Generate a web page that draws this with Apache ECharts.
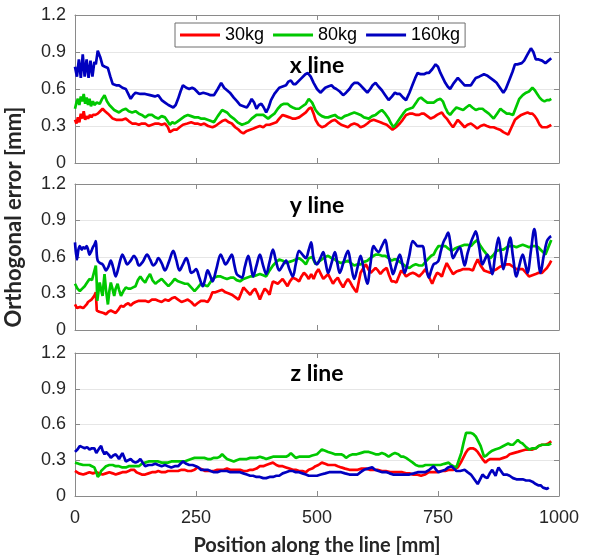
<!DOCTYPE html>
<html>
<head>
<meta charset="utf-8">
<script src="https://cdn.jsdelivr.net/npm/echarts@6/dist/echarts.min.js"></script>
<style>
  html, body { margin: 0; padding: 0; background: #fff; }
  #chart { width: 595px; height: 555px; }
</style>
</head>
<body>
<div id="chart"></div>
<script>
// Orthogonal error [mm] vs position along the line [mm], pairs of [position, error]

// ---- x line ----
const xLine30 = [[0,0.35],[3,0.32],[6,0.37],[9,0.33],[12,0.40],[15,0.36],[18,0.42],[21,0.35],[24,0.38],[27,0.36],[31,0.39],[34,0.37],[37,0.39],[42,0.39],[47,0.40],[52,0.42],[57,0.44],[62,0.42],[68,0.40],[73,0.38],[78,0.36],[85,0.35],[91,0.35],[98,0.35],[105,0.36],[111,0.34],[118,0.32],[125,0.32],[132,0.31],[138,0.32],[145,0.32],[152,0.30],[159,0.31],[166,0.32],[172,0.32],[179,0.31],[186,0.32],[192,0.29],[196,0.25],[199,0.25],[204,0.27],[210,0.27],[216,0.29],[223,0.31],[232,0.32],[240,0.33],[247,0.32],[253,0.32],[260,0.31],[267,0.32],[275,0.30],[284,0.29],[290,0.30],[297,0.32],[304,0.34],[311,0.35],[318,0.33],[324,0.32],[331,0.29],[338,0.27],[343,0.25],[348,0.24],[355,0.26],[362,0.27],[369,0.28],[375,0.29],[382,0.30],[389,0.29],[395,0.31],[402,0.31],[409,0.32],[416,0.33],[422,0.36],[429,0.39],[436,0.38],[443,0.37],[449,0.36],[456,0.36],[463,0.37],[470,0.39],[477,0.41],[483,0.44],[488,0.45],[493,0.40],[497,0.35],[503,0.31],[510,0.29],[517,0.30],[523,0.32],[530,0.34],[537,0.35],[543,0.33],[550,0.31],[557,0.30],[564,0.29],[570,0.31],[577,0.32],[584,0.31],[590,0.29],[597,0.30],[604,0.32],[610,0.34],[617,0.35],[624,0.34],[631,0.33],[637,0.32],[644,0.31],[650,0.29],[656,0.27],[663,0.29],[671,0.32],[677,0.35],[684,0.39],[691,0.40],[698,0.40],[705,0.39],[711,0.39],[716,0.40],[721,0.40],[728,0.38],[735,0.36],[741,0.37],[748,0.39],[753,0.40],[758,0.41],[763,0.38],[768,0.36],[775,0.32],[781,0.29],[786,0.32],[791,0.35],[798,0.32],[805,0.29],[811,0.31],[818,0.32],[825,0.30],[831,0.28],[838,0.30],[845,0.31],[851,0.30],[858,0.29],[865,0.29],[871,0.28],[878,0.27],[885,0.25],[890,0.24],[895,0.23],[902,0.29],[909,0.35],[915,0.37],[922,0.39],[928,0.40],[935,0.41],[940,0.40],[945,0.40],[950,0.38],[955,0.35],[960,0.31],[965,0.29],[970,0.29],[975,0.29],[980,0.30],[984,0.31]];
const xLine80 = [[0,0.44],[3,0.49],[6,0.52],[9,0.47],[12,0.54],[15,0.50],[18,0.56],[21,0.48],[24,0.53],[27,0.47],[30,0.52],[33,0.46],[37,0.50],[40,0.47],[45,0.49],[51,0.48],[56,0.52],[61,0.55],[66,0.50],[71,0.47],[76,0.45],[81,0.43],[86,0.42],[91,0.41],[98,0.43],[105,0.44],[111,0.42],[118,0.41],[125,0.42],[132,0.40],[138,0.39],[145,0.37],[152,0.39],[159,0.39],[166,0.37],[172,0.36],[179,0.38],[186,0.37],[191,0.34],[196,0.31],[201,0.33],[206,0.32],[213,0.34],[220,0.36],[227,0.38],[233,0.39],[240,0.38],[247,0.37],[254,0.37],[260,0.36],[267,0.36],[274,0.35],[281,0.34],[287,0.33],[295,0.38],[304,0.43],[309,0.42],[314,0.41],[321,0.38],[328,0.36],[336,0.33],[345,0.31],[352,0.32],[358,0.33],[365,0.36],[375,0.39],[382,0.39],[389,0.39],[399,0.36],[405,0.38],[412,0.40],[419,0.44],[426,0.47],[432,0.48],[439,0.48],[445,0.46],[450,0.45],[456,0.44],[463,0.44],[470,0.46],[477,0.48],[483,0.52],[490,0.49],[497,0.43],[503,0.40],[510,0.38],[517,0.37],[523,0.37],[530,0.38],[537,0.39],[543,0.37],[550,0.36],[557,0.38],[564,0.39],[570,0.40],[577,0.41],[584,0.40],[590,0.39],[597,0.37],[607,0.36],[614,0.38],[621,0.39],[627,0.41],[634,0.43],[641,0.40],[648,0.36],[653,0.32],[658,0.29],[664,0.32],[671,0.36],[678,0.40],[684,0.43],[691,0.44],[698,0.45],[705,0.49],[710,0.52],[715,0.53],[721,0.51],[728,0.49],[735,0.49],[741,0.49],[748,0.51],[755,0.52],[760,0.50],[765,0.45],[770,0.41],[775,0.39],[781,0.42],[788,0.45],[795,0.44],[802,0.43],[808,0.45],[815,0.47],[821,0.45],[828,0.43],[835,0.44],[842,0.44],[848,0.42],[855,0.40],[860,0.38],[865,0.36],[872,0.40],[879,0.44],[885,0.42],[892,0.40],[898,0.40],[905,0.39],[912,0.46],[918,0.52],[925,0.55],[932,0.57],[938,0.58],[945,0.61],[950,0.59],[955,0.56],[960,0.53],[965,0.51],[970,0.50],[975,0.51],[980,0.51],[984,0.52]];
const xLine160 = [[0,0.78],[4,0.70],[8,0.84],[12,0.69],[16,0.88],[20,0.70],[24,0.84],[28,0.69],[32,0.83],[36,0.70],[40,0.82],[43,0.80],[47,0.91],[52,0.86],[57,0.79],[62,0.78],[68,0.77],[73,0.70],[78,0.64],[85,0.63],[91,0.63],[98,0.61],[105,0.60],[110,0.56],[115,0.52],[120,0.55],[125,0.57],[135,0.56],[145,0.56],[155,0.55],[165,0.54],[172,0.55],[179,0.51],[186,0.49],[193,0.47],[203,0.45],[208,0.47],[213,0.52],[218,0.58],[223,0.63],[230,0.61],[236,0.60],[242,0.61],[247,0.60],[257,0.56],[265,0.57],[274,0.56],[280,0.55],[287,0.55],[295,0.60],[302,0.65],[308,0.61],[314,0.59],[320,0.57],[328,0.53],[335,0.50],[341,0.47],[348,0.46],[355,0.45],[360,0.48],[365,0.52],[370,0.49],[375,0.44],[380,0.47],[385,0.48],[390,0.45],[395,0.41],[400,0.45],[405,0.51],[412,0.56],[422,0.61],[429,0.62],[436,0.63],[441,0.66],[446,0.67],[451,0.64],[456,0.64],[466,0.68],[476,0.72],[481,0.73],[487,0.70],[493,0.65],[500,0.60],[507,0.57],[512,0.59],[517,0.61],[523,0.62],[530,0.63],[535,0.61],[540,0.60],[547,0.58],[554,0.55],[560,0.57],[567,0.60],[572,0.63],[577,0.65],[584,0.65],[590,0.63],[597,0.60],[604,0.57],[610,0.60],[615,0.63],[621,0.65],[627,0.62],[634,0.59],[641,0.55],[648,0.51],[655,0.54],[661,0.57],[666,0.56],[671,0.56],[678,0.53],[684,0.51],[691,0.57],[698,0.64],[703,0.69],[708,0.73],[714,0.72],[721,0.72],[726,0.73],[731,0.73],[738,0.76],[745,0.80],[750,0.78],[755,0.73],[760,0.69],[765,0.65],[770,0.62],[775,0.60],[783,0.65],[791,0.69],[798,0.66],[805,0.63],[811,0.63],[818,0.63],[823,0.66],[828,0.69],[835,0.70],[845,0.72],[851,0.71],[858,0.69],[865,0.67],[871,0.65],[878,0.61],[885,0.57],[890,0.60],[898,0.68],[904,0.74],[909,0.80],[914,0.80],[918,0.79],[923,0.81],[928,0.83],[935,0.88],[942,0.93],[947,0.90],[952,0.84],[958,0.84],[965,0.83],[972,0.81],[978,0.83],[984,0.85]];

// ---- y line ----
const yLine30 = [[0,0.21],[4,0.18],[7,0.17],[10,0.19],[14,0.20],[17,0.18],[20,0.19],[24,0.21],[27,0.23],[30,0.23],[34,0.25],[38,0.27],[41,0.29],[43,0.31],[45,0.16],[50,0.15],[54,0.16],[59,0.14],[64,0.13],[69,0.15],[74,0.16],[79,0.15],[84,0.14],[90,0.17],[95,0.20],[100,0.19],[105,0.21],[110,0.22],[115,0.20],[120,0.22],[125,0.23],[132,0.24],[139,0.24],[145,0.24],[152,0.23],[159,0.25],[166,0.25],[172,0.24],[179,0.23],[186,0.25],[193,0.24],[200,0.26],[206,0.27],[213,0.25],[220,0.23],[227,0.24],[233,0.25],[240,0.23],[247,0.20],[253,0.22],[260,0.24],[267,0.24],[274,0.23],[279,0.26],[284,0.31],[290,0.31],[297,0.32],[304,0.33],[311,0.31],[318,0.30],[324,0.29],[331,0.27],[338,0.25],[343,0.30],[348,0.35],[355,0.32],[362,0.29],[367,0.32],[372,0.34],[377,0.30],[382,0.25],[387,0.30],[392,0.34],[397,0.32],[402,0.29],[406,0.36],[409,0.40],[414,0.39],[419,0.38],[424,0.40],[429,0.42],[434,0.39],[439,0.36],[444,0.40],[450,0.43],[456,0.42],[463,0.40],[468,0.44],[473,0.47],[478,0.45],[483,0.42],[488,0.46],[493,0.42],[498,0.47],[503,0.50],[508,0.46],[513,0.42],[518,0.44],[523,0.46],[528,0.42],[533,0.38],[538,0.41],[543,0.43],[548,0.39],[554,0.35],[559,0.39],[564,0.42],[569,0.39],[573,0.36],[578,0.33],[582,0.31],[586,0.39],[590,0.47],[596,0.51],[601,0.54],[606,0.50],[611,0.47],[616,0.49],[621,0.51],[626,0.49],[631,0.46],[637,0.49],[644,0.51],[649,0.45],[654,0.40],[659,0.40],[664,0.39],[669,0.44],[674,0.49],[679,0.47],[684,0.44],[691,0.46],[698,0.47],[704,0.46],[711,0.44],[718,0.47],[724,0.50],[731,0.44],[738,0.38],[743,0.43],[748,0.47],[753,0.46],[758,0.44],[763,0.50],[768,0.55],[775,0.50],[781,0.46],[788,0.48],[795,0.49],[801,0.50],[808,0.50],[815,0.50],[822,0.49],[827,0.54],[832,0.58],[838,0.53],[845,0.49],[851,0.48],[858,0.47],[865,0.49],[871,0.50],[878,0.52],[885,0.53],[892,0.54],[898,0.54],[905,0.52],[912,0.50],[918,0.50],[925,0.50],[932,0.47],[938,0.44],[945,0.45],[952,0.46],[958,0.47],[965,0.47],[970,0.49],[975,0.51],[980,0.54],[984,0.57]];
const yLine80 = [[0,0.38],[5,0.34],[10,0.32],[15,0.34],[20,0.36],[25,0.39],[30,0.42],[35,0.41],[39,0.42],[43,0.53],[45,0.38],[46,0.24],[49,0.33],[51,0.39],[54,0.33],[57,0.28],[59,0.38],[61,0.46],[64,0.33],[68,0.21],[71,0.32],[74,0.39],[78,0.33],[81,0.28],[84,0.34],[88,0.38],[91,0.33],[95,0.28],[100,0.32],[105,0.35],[110,0.34],[115,0.34],[120,0.35],[125,0.36],[130,0.41],[135,0.44],[140,0.41],[145,0.39],[150,0.43],[155,0.46],[160,0.41],[166,0.38],[172,0.40],[179,0.42],[186,0.39],[193,0.36],[200,0.39],[206,0.42],[213,0.40],[220,0.39],[227,0.38],[233,0.38],[240,0.35],[247,0.32],[254,0.35],[260,0.38],[267,0.37],[274,0.36],[281,0.40],[287,0.43],[294,0.44],[301,0.44],[307,0.43],[314,0.42],[321,0.43],[328,0.43],[334,0.41],[341,0.40],[348,0.42],[355,0.43],[362,0.44],[368,0.44],[375,0.45],[382,0.46],[389,0.45],[395,0.44],[402,0.49],[409,0.53],[416,0.56],[422,0.58],[429,0.57],[436,0.55],[443,0.56],[450,0.57],[456,0.58],[463,0.59],[470,0.57],[477,0.54],[483,0.59],[490,0.60],[497,0.54],[503,0.56],[510,0.58],[517,0.60],[523,0.61],[530,0.59],[537,0.58],[543,0.56],[550,0.55],[557,0.56],[564,0.57],[570,0.55],[577,0.53],[584,0.54],[590,0.54],[597,0.56],[604,0.57],[610,0.59],[617,0.61],[622,0.62],[627,0.62],[634,0.61],[641,0.61],[648,0.59],[654,0.57],[659,0.58],[664,0.58],[671,0.56],[678,0.54],[684,0.52],[691,0.51],[698,0.53],[704,0.54],[711,0.53],[718,0.53],[724,0.56],[731,0.59],[736,0.61],[741,0.62],[746,0.66],[751,0.69],[758,0.69],[765,0.69],[771,0.67],[778,0.65],[785,0.67],[791,0.68],[798,0.69],[805,0.70],[811,0.70],[818,0.69],[825,0.72],[831,0.74],[838,0.69],[845,0.65],[851,0.62],[858,0.59],[865,0.62],[871,0.65],[878,0.66],[885,0.66],[892,0.68],[898,0.69],[905,0.69],[912,0.68],[918,0.69],[925,0.70],[932,0.69],[938,0.68],[945,0.69],[952,0.69],[957,0.68],[962,0.66],[967,0.64],[972,0.62],[978,0.68],[984,0.74]];
const yLine160 = [[0,0.72],[4,0.58],[7,0.66],[10,0.69],[14,0.66],[17,0.68],[21,0.67],[24,0.69],[27,0.66],[30,0.62],[34,0.65],[37,0.68],[40,0.70],[43,0.73],[45,0.62],[47,0.57],[52,0.55],[57,0.54],[61,0.51],[64,0.49],[69,0.52],[74,0.57],[79,0.51],[84,0.44],[89,0.50],[94,0.58],[98,0.62],[103,0.58],[108,0.54],[115,0.57],[122,0.61],[127,0.58],[132,0.53],[140,0.56],[149,0.62],[155,0.58],[162,0.53],[167,0.55],[172,0.59],[179,0.55],[186,0.49],[194,0.56],[203,0.65],[209,0.58],[216,0.49],[223,0.54],[230,0.59],[235,0.54],[240,0.47],[245,0.48],[250,0.50],[257,0.43],[264,0.36],[269,0.42],[274,0.49],[279,0.45],[284,0.40],[292,0.50],[301,0.62],[306,0.58],[311,0.54],[318,0.58],[324,0.62],[329,0.54],[334,0.46],[340,0.44],[345,0.43],[351,0.52],[358,0.61],[363,0.53],[368,0.44],[375,0.53],[382,0.62],[388,0.54],[395,0.46],[402,0.56],[409,0.66],[415,0.57],[422,0.49],[429,0.53],[436,0.57],[443,0.50],[450,0.44],[456,0.54],[463,0.65],[470,0.62],[477,0.59],[483,0.66],[488,0.72],[493,0.59],[500,0.54],[507,0.59],[513,0.64],[518,0.55],[523,0.47],[530,0.55],[537,0.64],[542,0.55],[547,0.47],[555,0.56],[564,0.65],[570,0.54],[577,0.42],[584,0.52],[590,0.61],[597,0.49],[604,0.38],[610,0.53],[617,0.69],[622,0.66],[627,0.64],[634,0.69],[641,0.74],[646,0.64],[651,0.55],[654,0.50],[657,0.46],[664,0.54],[671,0.62],[676,0.55],[681,0.47],[690,0.60],[698,0.73],[703,0.71],[708,0.69],[713,0.69],[718,0.69],[724,0.56],[731,0.43],[736,0.49],[741,0.54],[746,0.55],[751,0.57],[756,0.65],[761,0.72],[766,0.76],[771,0.80],[776,0.70],[781,0.59],[788,0.64],[795,0.68],[800,0.61],[805,0.53],[811,0.63],[818,0.72],[823,0.77],[828,0.81],[835,0.68],[842,0.54],[847,0.58],[852,0.62],[857,0.54],[862,0.46],[868,0.61],[875,0.76],[880,0.63],[885,0.50],[892,0.63],[899,0.76],[905,0.60],[912,0.44],[918,0.53],[925,0.62],[930,0.55],[935,0.47],[942,0.65],[949,0.83],[955,0.65],[962,0.47],[968,0.60],[975,0.73],[980,0.76],[984,0.77]];

// ---- z line ----
const zLine30 = [[0,0.21],[8,0.19],[17,0.18],[24,0.19],[30,0.20],[37,0.19],[44,0.20],[50,0.19],[57,0.18],[64,0.19],[71,0.20],[78,0.19],[84,0.18],[91,0.19],[98,0.20],[105,0.20],[111,0.21],[116,0.22],[122,0.22],[127,0.20],[132,0.19],[138,0.18],[145,0.18],[152,0.19],[159,0.20],[166,0.20],[172,0.21],[179,0.20],[186,0.20],[192,0.21],[199,0.21],[206,0.21],[213,0.21],[220,0.22],[226,0.22],[233,0.21],[240,0.21],[247,0.22],[253,0.24],[258,0.23],[264,0.22],[269,0.21],[274,0.21],[281,0.21],[287,0.21],[294,0.22],[301,0.22],[307,0.22],[314,0.23],[321,0.22],[328,0.22],[334,0.22],[341,0.22],[348,0.21],[355,0.21],[362,0.22],[368,0.22],[375,0.23],[382,0.25],[389,0.25],[395,0.26],[402,0.27],[409,0.28],[416,0.26],[422,0.25],[429,0.25],[436,0.24],[443,0.23],[450,0.22],[456,0.22],[463,0.21],[470,0.21],[477,0.20],[483,0.22],[490,0.23],[497,0.25],[503,0.26],[510,0.28],[517,0.27],[523,0.26],[530,0.26],[537,0.26],[543,0.25],[550,0.24],[558,0.23],[567,0.22],[575,0.22],[584,0.22],[592,0.23],[601,0.23],[609,0.22],[617,0.22],[625,0.22],[634,0.21],[642,0.21],[651,0.20],[659,0.20],[668,0.20],[676,0.20],[684,0.19],[691,0.19],[698,0.18],[706,0.18],[715,0.17],[723,0.18],[731,0.20],[740,0.20],[748,0.20],[756,0.21],[765,0.21],[773,0.22],[782,0.22],[786,0.23],[791,0.24],[797,0.28],[802,0.32],[807,0.36],[812,0.39],[817,0.40],[822,0.40],[827,0.39],[832,0.37],[837,0.34],[842,0.31],[848,0.28],[853,0.30],[858,0.31],[865,0.31],[871,0.31],[878,0.31],[885,0.32],[892,0.33],[898,0.35],[906,0.36],[915,0.37],[923,0.38],[932,0.39],[940,0.39],[945,0.39],[952,0.40],[958,0.42],[965,0.43],[972,0.43],[978,0.44],[984,0.46]];
const zLine80 = [[0,0.28],[8,0.27],[17,0.26],[24,0.26],[30,0.26],[35,0.25],[40,0.24],[44,0.20],[47,0.16],[51,0.18],[54,0.21],[59,0.23],[64,0.25],[71,0.26],[78,0.26],[84,0.25],[91,0.25],[98,0.24],[105,0.24],[111,0.25],[118,0.25],[125,0.25],[132,0.25],[138,0.27],[145,0.28],[152,0.29],[159,0.29],[166,0.29],[172,0.29],[179,0.28],[186,0.28],[192,0.28],[199,0.29],[206,0.29],[213,0.29],[220,0.29],[226,0.29],[233,0.30],[240,0.31],[247,0.32],[253,0.32],[260,0.32],[267,0.32],[274,0.31],[281,0.31],[287,0.32],[294,0.32],[299,0.33],[304,0.35],[309,0.33],[314,0.31],[321,0.30],[328,0.29],[334,0.30],[341,0.31],[348,0.31],[355,0.31],[362,0.32],[368,0.32],[375,0.32],[382,0.33],[389,0.32],[395,0.31],[402,0.32],[409,0.33],[416,0.33],[422,0.33],[429,0.33],[436,0.33],[441,0.34],[446,0.36],[451,0.34],[456,0.32],[463,0.33],[470,0.33],[477,0.33],[483,0.33],[490,0.34],[500,0.35],[505,0.37],[510,0.39],[517,0.38],[523,0.37],[530,0.36],[537,0.35],[543,0.35],[550,0.35],[555,0.34],[560,0.32],[567,0.34],[574,0.35],[582,0.35],[590,0.36],[598,0.37],[607,0.37],[614,0.36],[621,0.35],[628,0.35],[634,0.36],[641,0.35],[648,0.33],[655,0.35],[661,0.36],[668,0.35],[674,0.33],[679,0.33],[684,0.32],[691,0.30],[698,0.28],[704,0.26],[711,0.25],[718,0.25],[724,0.26],[732,0.26],[741,0.26],[748,0.26],[755,0.26],[763,0.27],[772,0.28],[777,0.26],[782,0.25],[788,0.24],[793,0.30],[798,0.36],[803,0.45],[808,0.53],[813,0.53],[818,0.53],[823,0.52],[828,0.50],[833,0.46],[838,0.42],[842,0.37],[845,0.33],[850,0.34],[855,0.36],[862,0.38],[868,0.39],[876,0.40],[885,0.42],[890,0.43],[895,0.44],[900,0.43],[905,0.43],[910,0.45],[915,0.47],[920,0.45],[925,0.44],[932,0.41],[939,0.39],[945,0.40],[952,0.40],[958,0.42],[965,0.43],[972,0.43],[978,0.43],[984,0.44]];
const zLine160 = [[0,0.37],[5,0.39],[10,0.42],[15,0.41],[20,0.40],[25,0.41],[30,0.39],[35,0.40],[40,0.40],[44,0.36],[47,0.35],[50,0.40],[54,0.42],[57,0.38],[61,0.35],[64,0.37],[68,0.37],[71,0.34],[74,0.32],[79,0.34],[84,0.35],[88,0.33],[91,0.31],[95,0.34],[98,0.36],[102,0.32],[105,0.29],[110,0.30],[115,0.31],[120,0.29],[125,0.28],[130,0.29],[135,0.31],[140,0.28],[145,0.25],[152,0.26],[159,0.26],[166,0.27],[172,0.26],[179,0.25],[186,0.26],[192,0.25],[199,0.24],[206,0.25],[213,0.25],[218,0.27],[223,0.29],[230,0.27],[236,0.26],[243,0.26],[250,0.25],[255,0.24],[260,0.22],[267,0.22],[274,0.22],[280,0.21],[287,0.20],[294,0.20],[301,0.21],[307,0.21],[314,0.21],[321,0.20],[328,0.20],[334,0.20],[341,0.20],[348,0.19],[355,0.18],[362,0.17],[368,0.17],[375,0.16],[382,0.16],[389,0.15],[395,0.15],[402,0.16],[409,0.16],[416,0.17],[422,0.17],[429,0.19],[436,0.20],[443,0.21],[450,0.21],[456,0.20],[463,0.20],[470,0.19],[477,0.18],[483,0.17],[490,0.17],[500,0.17],[508,0.18],[517,0.19],[525,0.20],[533,0.20],[542,0.20],[550,0.20],[558,0.19],[567,0.18],[575,0.18],[584,0.18],[590,0.20],[597,0.22],[605,0.23],[614,0.24],[620,0.22],[627,0.21],[635,0.20],[644,0.20],[650,0.19],[657,0.18],[665,0.18],[674,0.18],[682,0.18],[691,0.18],[700,0.19],[708,0.20],[716,0.20],[724,0.20],[732,0.22],[741,0.25],[746,0.22],[751,0.20],[758,0.21],[765,0.22],[771,0.24],[778,0.25],[783,0.23],[788,0.21],[796,0.21],[805,0.22],[811,0.20],[818,0.18],[825,0.14],[832,0.10],[837,0.14],[842,0.18],[847,0.16],[852,0.15],[857,0.19],[862,0.22],[866,0.19],[869,0.17],[872,0.21],[875,0.24],[880,0.21],[885,0.18],[892,0.18],[898,0.17],[905,0.15],[912,0.14],[918,0.14],[925,0.14],[932,0.13],[939,0.13],[945,0.12],[952,0.10],[957,0.09],[962,0.09],[967,0.07],[971,0.06],[975,0.06],[979,0.07]];

const loadNames = ['30kg', '80kg', '160kg'];
const panelTitles = ['x line', 'y line', 'z line'];
const panelData = [
  [xLine30, xLine80, xLine160],
  [yLine30, yLine80, yLine160],
  [zLine30, zLine80, zLine160]
];
const xTicks = [0, 250, 500, 750, 1000];
const yTicks = [0, 0.3, 0.6, 0.9, 1.2];

const colors = ['#ff0000', '#00c800', '#0000bf'];
const boxColor = '#8a8a8a';
const tickFont = 'Liberation Sans, Arial, sans-serif';
const boldFont = 'Lato, "Open Sans", sans-serif';

// plot areas (px)
const plotLeft = 75, plotRight = 36;
const panels = [
  { top: 15, height: 148 },
  { top: 184, height: 146 },
  { top: 353, height: 143 }
];

const grid = [], xAxis = [], yAxis = [], series = [], graphic = [];

panels.forEach((p, i) => {
  grid.push({ left: plotLeft, right: plotRight, top: p.top, height: p.height, containLabel: false });
  const last = i === panels.length - 1;
  const xCommon = {
    type: 'value', gridIndex: i,
    min: xTicks[0], max: xTicks[xTicks.length - 1], interval: xTicks[1] - xTicks[0],
    axisLine: { show: true, onZero: false, lineStyle: { color: boxColor, width: 1 } },
    axisTick: { show: true, inside: true, length: 5, lineStyle: { color: boxColor } },
    splitLine: { show: false }
  };
  xAxis.push(Object.assign({}, xCommon, {
    position: 'bottom',
    axisLabel: { show: last, color: '#262626', fontSize: 18, fontFamily: tickFont, margin: 13,
                 formatter: v => String(v) }
  }));
  xAxis.push(Object.assign({}, xCommon, { position: 'top', axisLabel: { show: false } }));

  const yCommon = {
    type: 'value', gridIndex: i,
    min: yTicks[0], max: yTicks[yTicks.length - 1], interval: yTicks[1] - yTicks[0],
    axisLine: { show: true, onZero: false, lineStyle: { color: boxColor, width: 1 } },
    axisTick: { show: true, inside: true, length: 5, lineStyle: { color: boxColor } }
  };
  yAxis.push(Object.assign({}, yCommon, {
    position: 'left',
    axisLabel: { color: '#262626', fontSize: 18, fontFamily: tickFont, margin: 9,
                 formatter: v => String(Math.round(v * 10) / 10) },
    splitLine: { show: true, lineStyle: { color: '#e6e6e6', width: 1 } }
  }));
  yAxis.push(Object.assign({}, yCommon, {
    position: 'right', axisLabel: { show: false }, splitLine: { show: false }
  }));

  panelData[i].forEach((d, k) => {
    // the 160kg trace on the y line oscillates smoothly
    const smooth = (i === 1 && k === 2) ? 0.35 : false;
    series.push({
      name: loadNames[k], type: 'line', data: d,
      xAxisIndex: i * 2, yAxisIndex: i * 2,
      showSymbol: false, symbol: 'none', smooth: smooth,
      lineStyle: { color: colors[k], width: 2.7 },
      itemStyle: { color: colors[k] },
      z: 2 + k
    });
  });
});

// panel titles
const titleCenters = [66, 206, 374];
panelTitles.forEach((t, i) => {
  graphic.push({
    type: 'text', x: 317, y: titleCenters[i], z: 10,
    style: { text: t, font: 'bold 23px ' + boldFont, fill: '#000', align: 'center', verticalAlign: 'middle' }
  });
});
// axis titles
graphic.push({
  type: 'text', x: 317, y: 546, z: 10,
  style: { text: 'Position along the line [mm]', font: 'bold 20px ' + boldFont, fill: '#262626', align: 'center', verticalAlign: 'middle' }
});
graphic.push({
  type: 'text', x: 14, y: 217, rotation: Math.PI / 2, z: 10,
  style: { text: 'Orthogonal error [mm]', font: 'bold 22px ' + boldFont, fill: '#262626', align: 'center', verticalAlign: 'middle' }
});

const chart = echarts.init(document.getElementById('chart'), null, { renderer: 'canvas' });
chart.setOption({
  animation: false,
  backgroundColor: '#ffffff',
  grid, xAxis, yAxis, series, graphic,
  legend: {
    data: loadNames,
    left: 175, top: 23,
    orient: 'horizontal',
    backgroundColor: '#ffffff',
    borderColor: '#6e6e6e', borderWidth: 1,
    padding: [3, 5, 3, 5],
    itemGap: 9, itemWidth: 40, itemHeight: 3,
    icon: 'rect',
    textStyle: { color: '#000', fontSize: 18, fontFamily: tickFont },
    selectedMode: false
  }
});
</script>
</body>
</html>
